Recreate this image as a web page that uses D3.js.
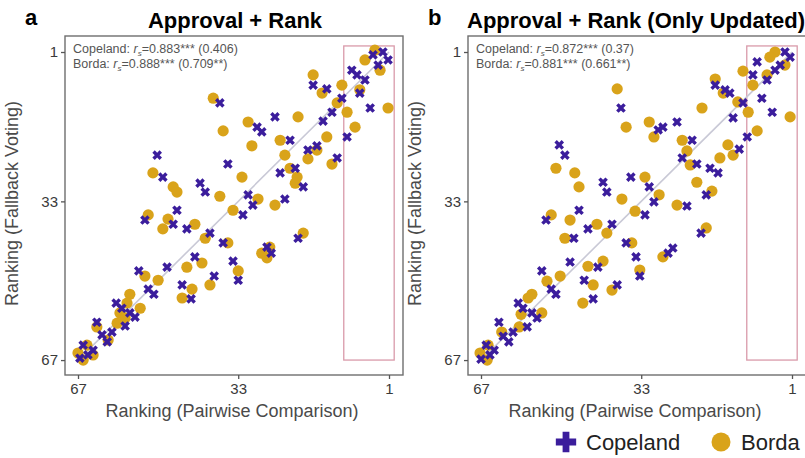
<!DOCTYPE html>
<html><head><meta charset="utf-8">
<script src="https://cdn.jsdelivr.net/npm/d3@7/dist/d3.min.js"></script>
<style>body{margin:0;background:#fff}svg{display:block;font-family:"Liberation Sans",Arial,sans-serif}</style>
</head><body><svg id="c" width="805" height="458"></svg>
<script>
// [pairwise ranking, fallback ranking]
const copelandA = [[4.4,1.6],[2.3,1.0],[1.2,2.7],[3.3,3.8],[8.9,4.9],[7.8,5.9],[6.1,7.0],[17.1,8.1],[14.2,8.9],[11.0,10.9],[7.2,9.8],[5.0,13.0],[13.1,13.9],[15.0,15.8],[9.9,19.2],[36.9,11.9],[25.2,14.9],[29.0,17.1],[28.0,18.1],[22.0,19.9],[18.2,22.0],[16.3,21.1],[12.0,23.7],[50.2,23.1],[49.0,27.8],[35.2,25.0],[24.1,26.9],[20.9,25.9],[41.1,29.1],[40.0,31.0],[19.2,29.9],[30.9,31.6],[23.1,32.5],[29.9,33.8],[32.0,35.9],[46.0,34.9],[52.8,37.0],[46.8,37.9],[43.9,38.9],[39.0,39.8],[36.2,41.9],[20.3,40.9],[26.9,42.8],[26.0,44.1],[42.2,44.9],[34.1,45.8],[48.1,47.1],[54.1,47.9],[38.1,49.0],[33.0,49.9],[52.1,51.8],[50.9,52.9],[44.9,50.9],[43.0,53.9],[58.9,54.8],[57.7,55.9],[56.0,56.9],[54.9,57.8],[63.0,58.9],[57.0,59.7],[61.9,61.6],[59.8,61.0],[60.8,63.1],[65.9,63.8],[63.8,64.9],[64.9,65.9],[66.6,66.6]];
const bordaA = [[4.0,0.6],[6.1,2.7],[2.9,4.9],[17.1,5.9],[11.0,8.1],[15.2,9.8],[7.2,9.1],[12.0,11.9],[9.9,13.9],[1.2,13.0],[8.2,17.1],[38.3,10.9],[20.3,14.9],[30.9,16.0],[36.2,17.9],[14.2,19.2],[24.1,19.9],[30.1,21.1],[16.3,22.0],[23.1,23.1],[18.2,23.9],[13.1,25.0],[22.0,25.9],[20.5,27.8],[51.1,26.9],[46.8,29.9],[46.0,31.0],[32.2,27.8],[36.9,31.9],[28.8,32.5],[20.9,29.1],[25.2,33.8],[52.1,35.9],[47.9,36.8],[49.0,38.9],[42.2,37.9],[34.1,34.9],[40.0,40.9],[35.2,41.9],[19.2,39.8],[26.3,42.8],[28.0,44.1],[26.9,45.1],[43.9,47.1],[40.7,46.2],[33.0,47.9],[52.8,49.0],[50.0,49.9],[39.0,50.9],[42.8,51.8],[44.9,53.7],[56.0,52.9],[56.6,54.8],[53.8,55.9],[58.1,56.9],[58.7,59.1],[63.0,59.9],[65.1,63.8],[67.0,65.5],[65.9,67.0],[57.0,58.0],[60.6,62.7],[63.8,65.9]];
const copelandB = [[2.5,1.0],[1.4,2.1],[3.5,3.8],[4.6,4.9],[8.4,3.1],[9.3,5.9],[6.3,7.0],[17.3,8.1],[15.2,9.1],[14.2,9.8],[11.4,11.9],[7.4,10.9],[5.2,13.9],[13.5,15.1],[10.5,19.2],[12.2,21.8],[37.3,13.0],[25.4,16.0],[29.4,17.7],[28.4,17.1],[22.2,19.9],[24.3,23.7],[21.2,25.0],[18.4,25.9],[16.7,26.9],[50.4,20.9],[49.2,23.1],[35.2,27.8],[41.1,28.9],[40.3,31.0],[31.3,29.9],[19.2,31.6],[30.3,33.1],[32.2,35.9],[23.3,34.0],[46.2,34.9],[53.2,37.0],[47.3,40.9],[44.3,38.9],[39.2,37.9],[36.2,41.9],[20.3,39.8],[34.1,44.9],[26.3,43.0],[27.3,44.1],[48.1,46.0],[42.2,47.1],[54.1,47.9],[33.3,49.0],[45.1,49.9],[38.1,50.9],[52.1,51.8],[51.1,52.9],[43.2,53.9],[59.1,54.8],[58.1,55.9],[56.2,56.9],[55.1,58.0],[63.2,58.9],[57.2,59.9],[60.2,61.0],[62.3,61.9],[61.1,63.1],[65.9,63.8],[64.2,64.9],[65.1,65.9],[67.0,66.8]];
const bordaB = [[4.6,1.0],[5.7,2.1],[2.5,3.8],[11.4,5.1],[6.3,5.9],[9.3,8.1],[17.3,6.8],[15.6,9.8],[12.5,11.7],[10.3,13.9],[1.4,14.9],[38.1,8.9],[20.1,13.0],[8.4,17.9],[31.3,16.0],[36.2,17.1],[30.3,19.2],[24.3,19.9],[23.3,22.2],[14.6,20.9],[13.5,23.1],[16.3,23.7],[22.6,25.2],[21.2,28.9],[18.0,30.8],[51.1,25.9],[47.1,26.9],[46.2,29.9],[32.2,27.8],[29.2,31.6],[37.1,32.5],[25.4,33.8],[52.1,35.9],[48.1,37.0],[49.2,40.9],[42.4,37.9],[34.3,35.1],[40.3,39.8],[35.0,41.9],[19.2,38.7],[28.4,44.9],[44.3,46.9],[41.1,45.8],[33.3,47.7],[53.0,50.1],[50.2,49.0],[43.2,50.9],[39.2,52.0],[45.4,54.8],[56.2,52.9],[57.0,53.7],[54.1,56.9],[58.9,59.9],[67.2,65.5],[65.7,67.0],[65.5,63.8],[62.6,61.0],[58.5,57.2]];
const tickValues = [1, 33, 67];
const panelLetters = ["a", "b"];
const panelTitles = ["Approval + Rank", "Approval + Rank (Only Updated)"];
const copelandStats = [["0.883***", "(0.406)"], ["0.872***", "(0.37)"]];
const bordaStats = [["0.888***", "(0.709**)"], ["0.881***", "(0.661**)"]];
const highlightX = [10.6, -0.1];
const highlightY = [-0.3, 67];
const seriesNames = ["Copeland", "Borda"];

const COP = "#3b1d9c", BOR = "#d9a31a";
const svg = d3.select("#c");
const W = 338, H = 339;
const x = d3.scaleLinear().domain([69.76, -1.97]).range([0, W]);
const y = d3.scaleLinear().domain([-2.43, 70.2]).range([0, H]);
const xSym = d3.symbol().type(d3.symbolCross).size(58);

function panel(i, ox, oy, cop, bor) {
  const g = svg.append("g").attr("transform", `translate(${ox},${oy})`);
  g.append("rect").attr("x", x(highlightX[0])).attr("y", y(highlightY[0]))
    .attr("width", x(highlightX[1]) - x(highlightX[0])).attr("height", y(highlightY[1]) - y(highlightY[0]))
    .attr("fill", "none").attr("stroke", "#d99aaa").attr("stroke-width", 1.3);
  g.append("line").attr("x1", x(67)).attr("y1", y(67)).attr("x2", x(1)).attr("y2", y(1))
    .attr("stroke", "#c9c9d6").attr("stroke-width", 1.6);
  g.selectAll("circle.b").data(bor).join("circle").attr("class", "b")
    .attr("cx", d => x(d[0])).attr("cy", d => y(d[1])).attr("r", 5.6).attr("fill", BOR);
  g.selectAll("path.c").data(cop).join("path").attr("class", "c")
    .attr("transform", d => `translate(${x(d[0])},${y(d[1])}) rotate(45)`)
    .attr("d", xSym).attr("fill", COP);
  g.append("rect").attr("width", W).attr("height", H).attr("fill", "none").attr("stroke", "#6e6e6e").attr("stroke-width", 1.4);
  const ya = g.append("g").call(d3.axisLeft(y).tickValues(tickValues).tickSize(4).tickPadding(3));
  const xa = g.append("g").attr("transform", `translate(0,${H})`).call(d3.axisBottom(x).tickValues(tickValues).tickSize(4).tickPadding(4));
  [ya, xa].forEach(a => {
    a.select(".domain").remove();
    a.selectAll("line").attr("stroke", "#555").attr("stroke-width", 1.3);
    a.selectAll("text").attr("font-size", 15).attr("fill", "#3a3a3a").attr("font-family", "Liberation Sans, Arial, sans-serif");
  });
  g.append("text").attr("x", W / 2 - 2).attr("y", H + 42).attr("text-anchor", "middle")
    .attr("font-size", 18).attr("fill", "#4a4a4a").text("Ranking (Pairwise Comparison)");
  g.append("text").attr("transform", `translate(-47,${H / 2 - 2}) rotate(-90)`).attr("text-anchor", "middle")
    .attr("font-size", 18).attr("fill", "#4a4a4a").text("Ranking (Fallback Voting)");
  const stats = [["Copeland: ", copelandStats[i]], ["Borda: ", bordaStats[i]]];
  stats.forEach((s, k) => {
    const t = g.append("text").attr("x", 8).attr("y", 17 + k * 14.5).attr("font-size", 12.5).attr("fill", "#555");
    t.append("tspan").text(s[0]);
    t.append("tspan").attr("font-style", "italic").text("r");
    t.append("tspan").attr("font-size", 8).attr("font-style", "italic").attr("dy", 3).text("s");
    t.append("tspan").attr("dy", -3).text("=" + s[1][0] + " " + s[1][1]);
  });
  svg.append("text").attr("x", i === 0 ? 235 : 636).attr("y", 28).attr("text-anchor", "middle")
    .attr("font-size", 22).attr("font-weight", "bold").attr("fill", "#000").text(panelTitles[i]);
  svg.append("text").attr("x", i === 0 ? 25 : 428).attr("y", 25)
    .attr("font-size", 22).attr("font-weight", "bold").attr("fill", "#000").text(panelLetters[i]);
}
panel(0, 65, 36, copelandA, bordaA);
panel(1, 468, 36, copelandB, bordaB);

const lg = svg.append("g");
lg.append("path").attr("transform", "translate(566,442)").attr("d", d3.symbol().type(d3.symbolCross).size(230)).attr("fill", COP);
lg.append("text").attr("x", 586).attr("y", 450).attr("font-size", 22).attr("fill", "#222").text(seriesNames[0]);
lg.append("circle").attr("cx", 721).attr("cy", 442).attr("r", 9.5).attr("fill", BOR);
lg.append("text").attr("x", 741).attr("y", 450).attr("font-size", 22).attr("fill", "#222").text(seriesNames[1]);
</script></body></html>
